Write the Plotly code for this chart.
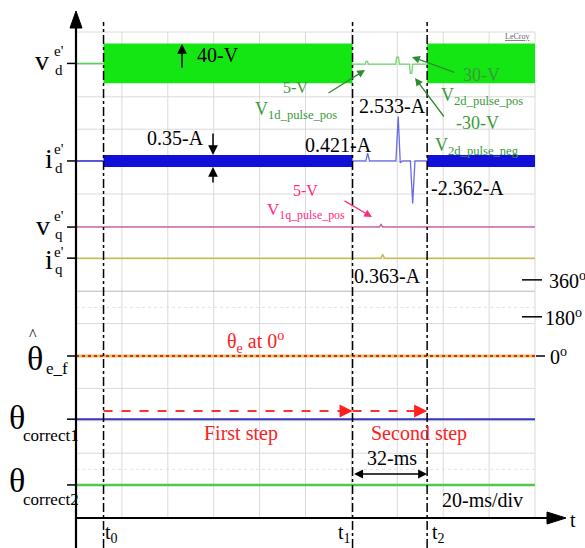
import plotly.graph_objects as go

# ---------------- data ----------------
ms_per_div = 20
time_span_ms = 200
t_markers = [12.0, 120.5, 153.0]                      # t0, t1, t2 (ms)
marker_labels = ["t<sub>0</sub>", "t<sub>1</sub>", "t<sub>2</sub>"]

# channel baselines in screen divisions (0 = time axis)
vd_base = 14.03
id_base = 11.02
vq_base = 8.98
iq_base = 8.02
theta_ef_base = 5.0
theta_c1_base = 3.05
theta_c2_base = 1.02

# injection envelopes (half height, divisions)
vd_band_half = 0.615
id_band_half = 0.185

# trace segments between t1 and t2 (offset from baseline, divisions)
vd_win_t = [120.5, 126.0, 126.4, 127.0, 127.4, 139.3, 139.7, 140.5, 140.9,
            145.3, 145.7, 146.3, 146.7, 153.0]
vd_win_v = [0, 0, 0.08, 0.08, 0, 0, 0.21, 0.21, 0, 0, -0.29, -0.29, 0, 0]
id_win_t = [120.5, 126.3, 127.1, 127.9, 139.4, 140.4, 141.3, 142.2,
            145.7, 146.7, 147.7, 153.0]
id_win_v = [0, 0, 0.24, 0, 0, 1.37, -0.06, 0, 0, -1.31, 0, 0]
vq_t = [0, 132.2, 132.9, 133.6, 200]
vq_v = [0, 0, 0.09, 0, 0]
iq_t = [0, 132.9, 133.6, 134.4, 200]
iq_v = [0, 0, 0.12, 0, 0]
theta_t = [0, 200]
theta_v = [0, 0]

theta_scale_labels = ["360<sup>o</sup>", "180<sup>o</sup>", "0<sup>o</sup>"]
theta_scale_div = [7.35, 6.21, 5.0]

# ---------------- geometry helpers ----------------
W, H = 585, 548
PX_X0, PX_Y0 = 76, 518
PX_PER_MS, PX_PER_DIV = 2.295, 32.4


def X(px):
    return (px - PX_X0) / PX_PER_MS


def Y(py):
    return (PX_Y0 - py) / PX_PER_DIV


SERIF = "Liberation Serif"
GREEN_T = "#3a9a3a"
PINK_T = "#ff2a80"
RED_T = "#ff2020"

fig = go.Figure()
shapes = []
ann = []

# grid
for k in range(1, 11):
    shapes.append(dict(type="line", x0=k * ms_per_div, x1=k * ms_per_div, y0=0, y1=15,
                       line=dict(color="#dadada", width=1), layer="below"))
for k in range(1, 16):
    col = "#b8b8b8" if k == 7 else "#dadada"
    shapes.append(dict(type="line", x0=0, x1=time_span_ms, y0=k, y1=k,
                       line=dict(color=col, width=1), layer="below"))
for yy in (6.5, 1.5):
    shapes.append(dict(type="line", x0=0, x1=time_span_ms, y0=yy, y1=yy,
                       line=dict(color="#e4e4e4", width=1, dash="dot"), layer="below"))

t0, t1, t2 = t_markers


def band(ta, tb, base, half, color):
    fig.add_trace(go.Scatter(x=[ta, tb, tb, ta, ta],
                             y=[base + half, base + half, base - half, base - half, base + half],
                             mode="lines", fill="toself", fillcolor=color,
                             line=dict(width=0, color=color), hoverinfo="skip", showlegend=False))


def line(xs, vs, base, color, width=1.5, dash="solid"):
    fig.add_trace(go.Scatter(x=xs, y=[base + v for v in vs], mode="lines",
                             line=dict(color=color, width=width, dash=dash),
                             hoverinfo="skip", showlegend=False))


# v_d
line([0, t0], [0, 0], vd_base, "#5ccf5c", 1.5)
band(t0, t1, vd_base, vd_band_half, "#14e614")
line(vd_win_t, vd_win_v, vd_base - 0.02, "#6fd86f", 1.3)
band(t2, time_span_ms, vd_base, vd_band_half, "#14e614")
# i_d
line([0, t0], [0, 0], id_base, "#2a2ad0", 1.5)
band(t0, t1, id_base, id_band_half, "#1010d8")
line(id_win_t, id_win_v, id_base, "#6a6ae6", 1.3)
band(t2, time_span_ms, id_base, id_band_half, "#1010d8")
# v_q, i_q
line(vq_t, vq_v, vq_base, "#cc6aa8", 1.5)
line(iq_t, iq_v, iq_base, "#c6bd4e", 1.5)
# thetas
line(theta_t, theta_v, theta_ef_base, "#d0c860", 3)
line(theta_t, theta_v, theta_ef_base, "#ff1a1a", 2, "dot")
line(theta_t, theta_v, theta_c1_base, "#3535c0", 2)
line(theta_t, theta_v, theta_c2_base, "#4ccc4c", 2.5)

# main axes
shapes.append(dict(type="line", x0=0, x1=0, y0=Y(548), y1=Y(24), line=dict(color="black", width=2.2)))
shapes.append(dict(type="line", x0=0, x1=X(552), y0=0, y1=0, line=dict(color="black", width=2.2)))
shapes.append(dict(type="path",
                   path=f"M {X(70)} {Y(28)} L {X(82)} {Y(28)} L {X(76)} {Y(11)} Z",
                   fillcolor="black", line=dict(color="black", width=1)))
shapes.append(dict(type="path",
                   path=f"M {X(547)} {Y(512)} L {X(547)} {Y(524)} L {X(566)} {Y(518)} Z",
                   fillcolor="black", line=dict(color="black", width=1)))

# left ticks
for b in (vd_base, id_base, vq_base, iq_base, theta_ef_base, theta_c1_base, theta_c2_base):
    shapes.append(dict(type="line", x0=X(67), x1=0, y0=b, y1=b, line=dict(color="black", width=1.5)))

# right theta scale ticks
for lab, yv in zip(theta_scale_labels, theta_scale_div):
    if lab.startswith("0"):
        shapes.append(dict(type="line", x0=X(536), x1=X(545), y0=yv, y1=yv,
                           line=dict(color="black", width=1.5)))
    else:
        shapes.append(dict(type="line", x0=X(522), x1=X(542), y0=yv, y1=yv,
                           line=dict(color="black", width=1.5)))

# time marker dash-dot lines
for i, tm in enumerate(t_markers):
    shapes.append(dict(type="line", x0=tm, x1=tm, y0=Y(548), y1=Y(22),
                       line=dict(color="black", width=1.5, dash="dashdot")))

# red dashed arrows
shapes.append(dict(type="line", x0=t0, x1=t1 - 2, y0=Y(411), y1=Y(411),
                   line=dict(color="#ff3030", width=2, dash="dash")))
shapes.append(dict(type="line", x0=t1, x1=t2 - 2, y0=Y(411), y1=Y(411),
                   line=dict(color="#ff3030", width=2, dash="dash")))
for tip in (t1, t2):
    ann.append(dict(x=tip, y=Y(411), xref="x", yref="y", text="", showarrow=True,
                    ax=-14, ay=0, arrowhead=2, arrowsize=1.3, arrowwidth=2, arrowcolor="#ff2020"))

# 32-ms double arrow
ann.append(dict(x=t2, y=Y(474), ax=t1, ay=Y(474), axref="x", ayref="y", xref="x", yref="y",
                text="", showarrow=True, arrowhead=2, startarrowhead=2, arrowside="end+start",
                arrowsize=1.2, startarrowsize=1.2, arrowwidth=1.5, arrowcolor="black"))


def txt(px, py, s, size=20, color="black", xanchor="center"):
    ann.append(dict(x=X(px), y=Y(py), xref="x", yref="y", text=s, showarrow=False,
                    xanchor=xanchor, yanchor="middle",
                    font=dict(family=SERIF, size=size, color=color)))


def arrow(tail, tip, color="black", width=1.5, size=1.3):
    ann.append(dict(x=X(tip[0]), y=Y(tip[1]), xref="x", yref="y", text="", showarrow=True,
                    ax=tail[0] - tip[0], ay=tail[1] - tip[1], arrowhead=2, arrowsize=size,
                    arrowwidth=width, arrowcolor=color))


# left channel labels
for (cx, cy, main, sup, sub, sz, dsup, dsub) in [
    (42, 60, "v", "e'", "d", 28, -9, 10),
    (49, 158, "i", "e'", "d", 28, -9, 10),
    (43, 225, "v", "e'", "q", 28, -9, 9),
    (49, 259, "i", "e'", "q", 28, -7, 10),
]:
    txt(cx, cy, main, sz)
    txt(52, cy + dsup, sup, 15, xanchor="left")
    txt(53, cy + dsub, sub, 15, xanchor="left")

txt(35, 358, "θ", 34)
txt(33, 334, "^", 16)
txt(44, 368, "e_f", 17, xanchor="left")
txt(17, 417, "θ", 34)
txt(21, 435, "correct1", 17, xanchor="left")
txt(17, 480, "θ", 34)
txt(21, 499, "correct2", 17, xanchor="left")

# value labels
txt(218, 55, "40-V")
arrow((182, 69), (182, 44))
txt(175, 138, "0.35-A")
arrow((213, 132), (213, 155))
arrow((213, 184), (213, 167))
txt(338, 145, "0.421-A")
txt(392, 106, "2.533-A")
txt(467, 188, "-2.362-A")
txt(387, 276, "0.363-A")

# green labels
txt(295, 87, "5-V", 16, GREEN_T)
txt(296, 110, "V<sub>1d_pulse_pos</sub>", 18, GREEN_T)
arrow((327, 94), (365, 70), "#2e8b2e", 1.3, 1.2)
txt(481, 75, "30-V", 18, GREEN_T)
arrow((456, 73), (412, 57), "#2e8b2e", 1.3, 1.2)
txt(482, 96, "V<sub>2d_pulse_pos</sub>", 18, GREEN_T)
txt(477, 123, "-30-V", 18, GREEN_T)
arrow((445, 118), (415, 78), "#2e8b2e", 1.3, 1.2)
txt(477, 146, "V<sub>2d_pulse_neg</sub>", 18, GREEN_T)

# pink labels
txt(305, 190, "5-V", 16, PINK_T)
txt(306, 211, "V<sub>1q_pulse_pos</sub>", 17, PINK_T)
arrow((343, 200), (372, 217), PINK_T, 1.3, 1.2)

# red labels
txt(255, 342, "θ<sub>e</sub> at 0<sup>o</sup>", 20, RED_T)
txt(241, 433, "First step", 20, RED_T)
txt(419, 433, "Second step", 20, RED_T)

txt(392, 458, "32-ms")
txt(482, 500, "20-ms/div")
txt(573, 520, "t", 20)

# right theta scale labels
for lab, yv, px in zip(theta_scale_labels, theta_scale_div, (547, 543, 548)):
    ann.append(dict(x=X(px), y=yv, xref="x", yref="y", text=lab, showarrow=False,
                    xanchor="left", yanchor="middle",
                    font=dict(family=SERIF, size=20, color="black")))

# time marker labels
for tm, lab, dx in zip(t_markers, marker_labels, (8, -8, 11)):
    ann.append(dict(x=tm, y=Y(533), xref="x", yref="y", text=lab, showarrow=False,
                    xanchor="center", yanchor="middle", xshift=dx,
                    font=dict(family=SERIF, size=20, color="black")))

txt(517, 36, "<u>LeCroy</u>", 8, "#666666")

fig.update_layout(
    width=W, height=H, margin=dict(l=0, r=0, t=0, b=0),
    paper_bgcolor="white", plot_bgcolor="white",
    xaxis=dict(range=[X(0), X(W)], visible=False, fixedrange=True),
    yaxis=dict(range=[Y(H), Y(0)], visible=False, fixedrange=True),
    shapes=shapes, annotations=ann, showlegend=False,
)
fig.write_html("out.html")
